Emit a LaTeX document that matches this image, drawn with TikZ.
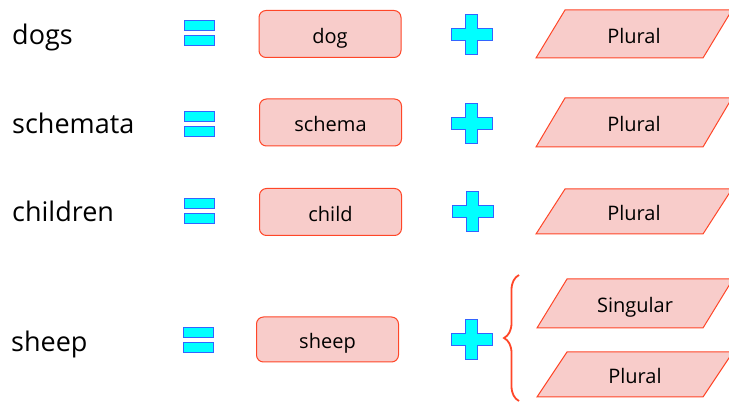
\documentclass[tikz,border=0pt]{standalone}
\usepackage{fontspec}
\setmainfont{Open Sans}
\usetikzlibrary{decorations.pathreplacing}
\definecolor{pinkfill}{RGB}{248,204,202}
\definecolor{redline}{RGB}{255,70,40}
\definecolor{cyanfill}{RGB}{0,255,255}
\definecolor{blueline}{RGB}{50,100,255}
\tikzset{
  word/.style={anchor=base west, inner sep=0pt, font=\fontsize{27}{30}\selectfont},
  stembox/.style={draw=redline, fill=pinkfill, rounded corners=7pt, line width=1pt,
    minimum width=142pt, minimum height=47pt, inner sep=0pt, text height=19pt, text depth=0pt,
    font=\fontsize{20}{23}\selectfont},
  para/.style={draw=redline, fill=pinkfill, line width=1pt},
  paratext/.style={inner sep=0pt, text height=19pt, text depth=0pt, font=\fontsize{20}{23}\selectfont},
  sym/.style={draw=blueline, fill=cyanfill, line width=1pt},
  eqsign/.pic={\path[sym] (-15,-12.5) rectangle (15,-2.5); \path[sym] (-15,2.5) rectangle (15,12.5);},
  plussign/.pic={\path[sym] (-6,-20) -- (6,-20) -- (6,-6) -- (20.5,-6) -- (20.5,6) -- (6,6) -- (6,20)
     -- (-6,20) -- (-6,6) -- (-20.5,6) -- (-20.5,-6) -- (-6,-6) -- cycle;},
}
\begin{document}
\begin{tikzpicture}[x=1pt,y=-1pt]
\useasboundingbox (0,0) rectangle (729,403);
% row 1
\node[word] (w1) at (12,45) {dogs};
\pic at (199,33) {eqsign};
\node[stembox] (s1) at (330,34) {dog};
\pic at (471.5,34.5) {plussign};
\draw[para] (536,58) -- (565,10) -- (732,10) -- (703,58) -- cycle;
\node[paratext] (p1) at (634,34) {Plural};
% row 2
\node[word] (w2) at (12,134) {schemata};
\pic at (199,124.5) {eqsign};
\node[stembox] (s2) at (330.5,122.5) {schema};
\pic at (471.5,123.5) {plussign};
\draw[para] (536,147) -- (565,98) -- (732,98) -- (703,147) -- cycle;
\node[paratext] (p2) at (634,122.5) {Plural};
% row 3
\node[word] (w3) at (12,222) {children};
\pic at (199,211.5) {eqsign};
\node[stembox] (s3) at (330.5,212) {child};
\pic at (472.5,212) {plussign};
\draw[para] (536,234) -- (565,189) -- (732,189) -- (703,234) -- cycle;
\node[paratext] (p3) at (634,211.5) {Plural};
% row 4
\node[word] (w4) at (11,352) {sheep};
\pic at (198,340.5) {eqsign};
\node[stembox, minimum height=45pt] (s4) at (327.5,339.5) {sheep};
\pic at (471.5,340) {plussign};
\draw[redline, line width=1.8pt, decorate, decoration={brace, amplitude=15pt}] (519,401) -- (519,275);
\draw[para] (537,328) -- (567,279) -- (733,279) -- (703,328) -- cycle;
\node[paratext] (p4) at (635,303.5) {Singular};
\draw[para] (537,397) -- (567,352) -- (733,352) -- (703,397) -- cycle;
\node[paratext] (p5) at (635,374.5) {Plural};
\end{tikzpicture}
\end{document}
